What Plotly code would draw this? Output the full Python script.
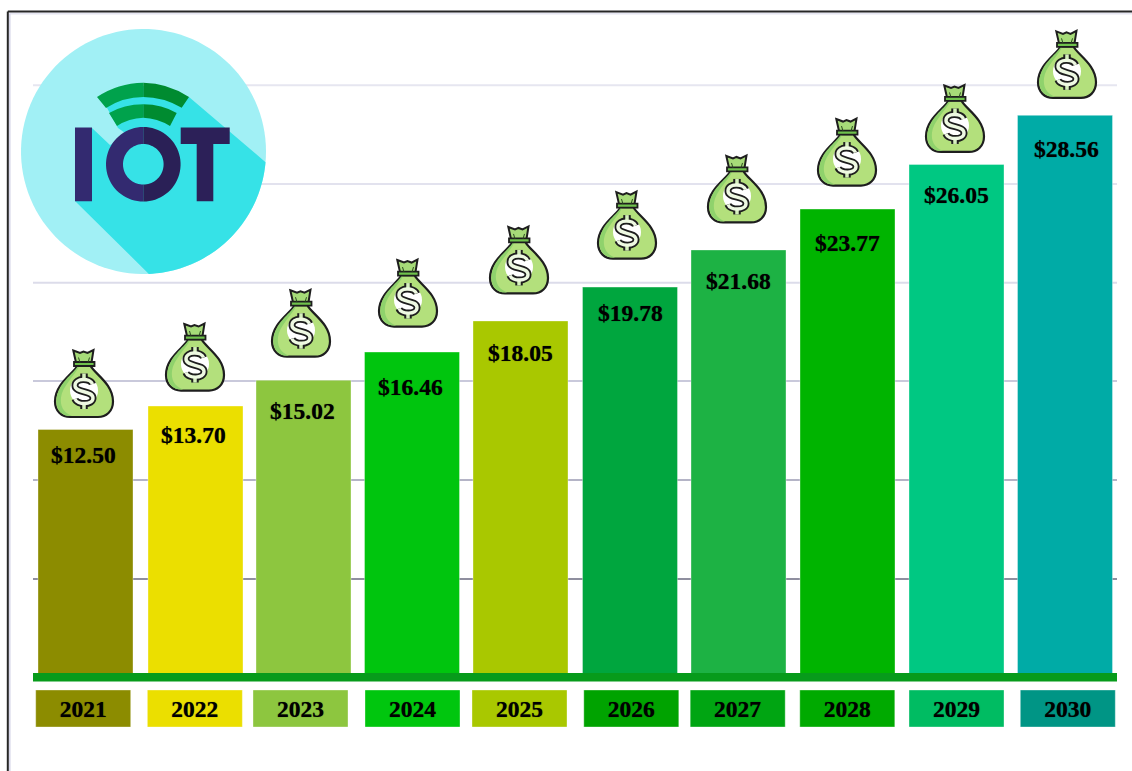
import numpy as np
import plotly.graph_objects as go

# ---------- data ----------
years = ["2021", "2022", "2023", "2024", "2025", "2026", "2027", "2028", "2029", "2030"]
market_values = [12.50, 13.70, 15.02, 16.46, 18.05, 19.78, 21.68, 23.77, 26.05, 28.56]
bar_colors = ["#8C8C00", "#EBDF00", "#8DC63F", "#00C50E", "#A9C800", "#00A63E", "#1DB244", "#00B400", "#00C882", "#00ABA6"]
box_colors = ["#8C8C00", "#EBDF00", "#8DC63F", "#00C60E", "#A9C800", "#00A300", "#00A512", "#00AA00", "#00BC62", "#009585"]
grid_values = [4.86, 9.92, 14.98, 20.0, 25.05, 30.1]
grid_colors = ["#8F8F9F", "#B4B4C6", "#C9C9DB", "#DCDCEA", "#E2E2EE", "#E6E6F0"]

# ---------- layout constants (pixels) ----------
W, H = 1132, 771
SLOT, FIRST, BAR_W = 109.0, 85.5, 95.0
BASE_PX, SCALE = 674.0, 19.56

bar_nudge = [0, 1, 0, -0.5, -1, -0.5, -1, -1, -1, -1.5]
box_nudge = [-2.3, 0.35, -3, 0, -2, 0.8, -1.8, -1.2, -1, 1.3]
label_nudge = [-2.5, -1.5, -1.5, -2.5, -1.5, -0.5, -1.5, -1.5, -1.5, -0.5]
label_drop = [25, 29, 31, 35, 32, 26, 31, 34, 31, 34]
bag_nudge = [-1.5, 0.5, -2.5, -4.5, -2.5, -3.5, -2.5, -1.5, -2.5, 0.5]
bag_lift = [46, 49, 57, 59, 61, 62, 61, 57, 46, 51]

idx = np.arange(len(years))
n = len(years)
TEXT_SHADOW = "0 0 0.8px rgba(0,0,0,0.7)"


def to_x(px):
    return (px - FIRST) / SLOT


def to_px_path(cmds):
    """Pixel path (y down, from page top-left) -> paper path string."""
    out = []
    for c in cmds:
        if isinstance(c, str):
            out.append(c)
        else:
            out.append(f"{c[0] / W:.5f},{1 - c[1] / H:.5f}")
    return " ".join(out)


def poly(pts):
    cmds = ["M", pts[0]]
    for p in pts[1:]:
        cmds += ["L", p]
    cmds.append("Z")
    return to_px_path(cmds)


def logo_shape(path, color):
    return dict(type="path", xref="paper", yref="paper", path=path,
                fillcolor=color, line=dict(width=0), layer="above")


def arc(cx, cy, r, a0, a1, steps=40):
    a = np.radians(np.linspace(a0, a1, steps))
    return [(cx + r * np.cos(t), cy + r * np.sin(t)) for t in a]


shapes = []

# frame of the picture
for (x0, y0, x1, y1, col, wd) in [
    (9.6, 13.4, W, 13.4, "#E6E6F2", 2), (9.6, 13.4, 9.6, H, "#D8D8EA", 2),
    (7.8, 11.5, W, 11.5, "#262626", 2), (7.8, 11.5, 7.8, H, "#262626", 2),
]:
    shapes.append(dict(type="line", xref="paper", yref="paper", x0=x0 / W, x1=x1 / W,
                       y0=1 - y0 / H, y1=1 - y1 / H, line=dict(color=col, width=wd), layer="below"))

# horizontal guide lines, behind the bars
for v, c in zip(grid_values, grid_colors):
    shapes.append(dict(type="line", xref="x", yref="y", x0=to_x(33), x1=to_x(1117), y0=v, y1=v,
                       line=dict(color=c, width=2), layer="below"))

# green floor under the bars
shapes.append(dict(type="rect", xref="x", yref="y", x0=to_x(33), x1=to_x(1117),
                   y0=(BASE_PX - 681.5) / SCALE, y1=(BASE_PX - 673) / SCALE,
                   fillcolor="#079B1B", line=dict(width=0), layer="above"))

# ---------- IoT badge ----------
cx, cy, R = 143.5, 151.5, 122.5
shapes.append(logo_shape(poly(arc(cx, cy, R, 0, 360, 120)), "#A1F0F5"))
rim = arc(cx, cy, R, 87.5, 5, 50)
shadow = [(75, 201)] + rim + [(189, 97), (143, 86), (106, 106), (118, 128), (128, 135), (110, 145), (92, 128), (92, 201)]
shapes.append(logo_shape(poly(shadow), "#36E2E7"))
# wifi arcs
shapes.append(logo_shape(to_px_path(["M", (97, 97), "Q", (118, 83), (143.3, 82.7), "L", (143.3, 97), "Q", (123, 97), (106, 108), "Z"]), "#00A24C"))
shapes.append(logo_shape(to_px_path(["M", (189, 97), "Q", (168, 83), (143.3, 82.7), "L", (143.3, 97), "Q", (163, 97), (181.7, 107.7), "Z"]), "#008B30"))
shapes.append(logo_shape(to_px_path(["M", (109, 113), "Q", (124, 104.5), (143.3, 104.3), "L", (143.3, 117.7), "Q", (129, 118), (117, 126), "Z"]), "#00A24C"))
shapes.append(logo_shape(to_px_path(["M", (176.7, 113), "Q", (162, 104.5), (143.3, 104.3), "L", (143.3, 117.7), "Q", (157, 118), (170, 126), "Z"]), "#008B30"))
# letters I O T
shapes.append(logo_shape(poly([(75, 127.5), (92, 127.5), (92, 201.2), (75, 201.2)]), "#332A70"))
ox, oy, ro, ri = 143.3, 164.3, 37.3, 20.3
shapes.append(logo_shape(poly(arc(ox, oy, ro, 90, 270) + arc(ox, oy, ri, 270, 90)), "#332A70"))
shapes.append(logo_shape(poly(arc(ox, oy, ro, -90, 90) + arc(ox, oy, ri, 90, -90)), "#2A2056"))
shapes.append(logo_shape(poly([(180.7, 127.5), (229.7, 127.5), (229.7, 144), (213.3, 144), (213.3, 201.2),
                               (196.7, 201.2), (196.7, 144), (180.7, 144)]), "#2C2058"))


# ---------- money bag (local pixels, y down, centred on the bag) ----------
def flip(d):
    """Flip y of a local path so that +y is down on screen."""
    toks = d.split()
    res = []
    for t in toks:
        if "," in t:
            a, b = t.split(",")
            res.append(f"{a},{-float(b)}")
        else:
            res.append(t)
    return " ".join(res)


OUT = "#1E1E1E"
bag_parts = [
    ("M -10.7,-33 L -4,-30.5 L -0.5,-32 L 3.5,-30.5 L 9.5,-33.5 L 7.5,-21 L -8,-21 Z", "#A6DB78", OUT, 2),
    ("M -6.5,-18 C -10,-10 -29,0 -29,18 C -29,28 -22,33.5 -14,33.5 L 14,33.5 C 22,33.5 29,28 29,18 C 29,0 10,-10 6.5,-18 Z", "#B3E07C", OUT, 2.2),
    ("M -6.5,-17 C -10,-10 -27.5,0 -27.5,18 C -27.5,28 -21,32.5 -14,32.5 L -12,32.5 C -21,29 -24,22 -23,14 C -22,3 -9,-8 -5,-17 Z", "#8FD26C", None, 0),
    ("M -10,-21.5 L 10.5,-21.5 L 10.5,-17.5 L -10,-17.5 Z", "#6FC24C", OUT, 1.8),
    ("M 0,-7 C 8,-7 14,-1 14,7 C 14,15 8,21 0,21 C -8,21 -14,15 -14,7 C -14,-1 -8,-7 0,-7 Z", "#FFFFFF", None, 0),
]
dollar_s = "M 8.5,0.5 C 6.5,-5.5 -9,-6 -9,2 C -9,10 9,6.5 9,14.5 C 9,22 -7,21.5 -9,15.5"
dollar_v = "M 0,-10 L 0,-3"
dollar_w = "M 0,19 L 0,25.5"
knot_a = "M -4,-21 L -5.5,-26"
knot_b = "M 4,-21 L 5.5,-26"

for i in range(n):
    ax = i + bag_nudge[i] / SLOT
    ay = market_values[i] + bag_lift[i] / SCALE
    base = dict(type="path", xref="x", yref="y", xsizemode="pixel", ysizemode="pixel",
                xanchor=float(ax), yanchor=float(ay), layer="above")
    for d, fill, lc, lw in bag_parts:
        line = dict(color=lc, width=lw) if lc else dict(width=0)
        shapes.append(dict(base, path=flip(d), fillcolor=fill, line=line))
    for d in (knot_a, knot_b):
        shapes.append(dict(base, path=flip(d), line=dict(color="#2B4A20", width=1)))
    for d in (dollar_v, dollar_w):
        shapes.append(dict(base, path=flip(d), line=dict(color=OUT, width=7.5)))
    shapes.append(dict(base, path=flip(dollar_s), line=dict(color=OUT, width=7)))
    for d in (dollar_v, dollar_w):
        shapes.append(dict(base, path=flip(d), line=dict(color="#D6F0BE", width=3.5)))
    shapes.append(dict(base, path=flip(dollar_s), line=dict(color="#EEF9E2", width=3.4)))

# ---------- traces ----------
fig = go.Figure()

fig.add_trace(go.Bar(
    x=idx + np.array(bar_nudge) / SLOT, y=market_values, width=BAR_W / SLOT,
    marker=dict(color=bar_colors, line=dict(color="rgba(255,255,255,0.35)", width=1)),
    showlegend=False, hoverinfo="skip",
))

BOX_TOP = (BASE_PX - 690) / SCALE
BOX_H = 37.0 / SCALE
fig.add_trace(go.Bar(
    x=idx + np.array(box_nudge) / SLOT, y=[-BOX_H] * n, base=[BOX_TOP] * n, width=BAR_W / SLOT,
    marker=dict(color=box_colors, line=dict(color="rgba(255,255,255,0.35)", width=1)),
    text=years, textposition="inside", insidetextanchor="middle", textangle=0,
    constraintext="none",
    textfont=dict(family="Liberation Serif", size=23.5, color="#000000", weight="bold", shadow=TEXT_SHADOW),
    showlegend=False, hoverinfo="skip",
))

annotations = [
    dict(x=float(i + label_nudge[i] / SLOT), y=market_values[i], xref="x", yref="y",
         yshift=-label_drop[i], text=f"<b>${market_values[i]:.2f}</b>", showarrow=False,
         font=dict(family="Liberation Serif", size=23.5, color="#000000", shadow=TEXT_SHADOW))
    for i in range(n)
]

fig.update_layout(
    width=W, height=H, margin=dict(l=0, r=0, t=0, b=0),
    paper_bgcolor="#FFFFFF", plot_bgcolor="#FFFFFF",
    xaxis=dict(range=[to_x(0), to_x(W)], visible=False, fixedrange=True),
    yaxis=dict(range=[(BASE_PX - H) / SCALE, BASE_PX / SCALE], visible=False, fixedrange=True),
    barmode="overlay", shapes=shapes, annotations=annotations, showlegend=False,
)

fig.write_html("out.html", post_script="document.body.style.margin='0';", config=dict(displayModeBar=False))
